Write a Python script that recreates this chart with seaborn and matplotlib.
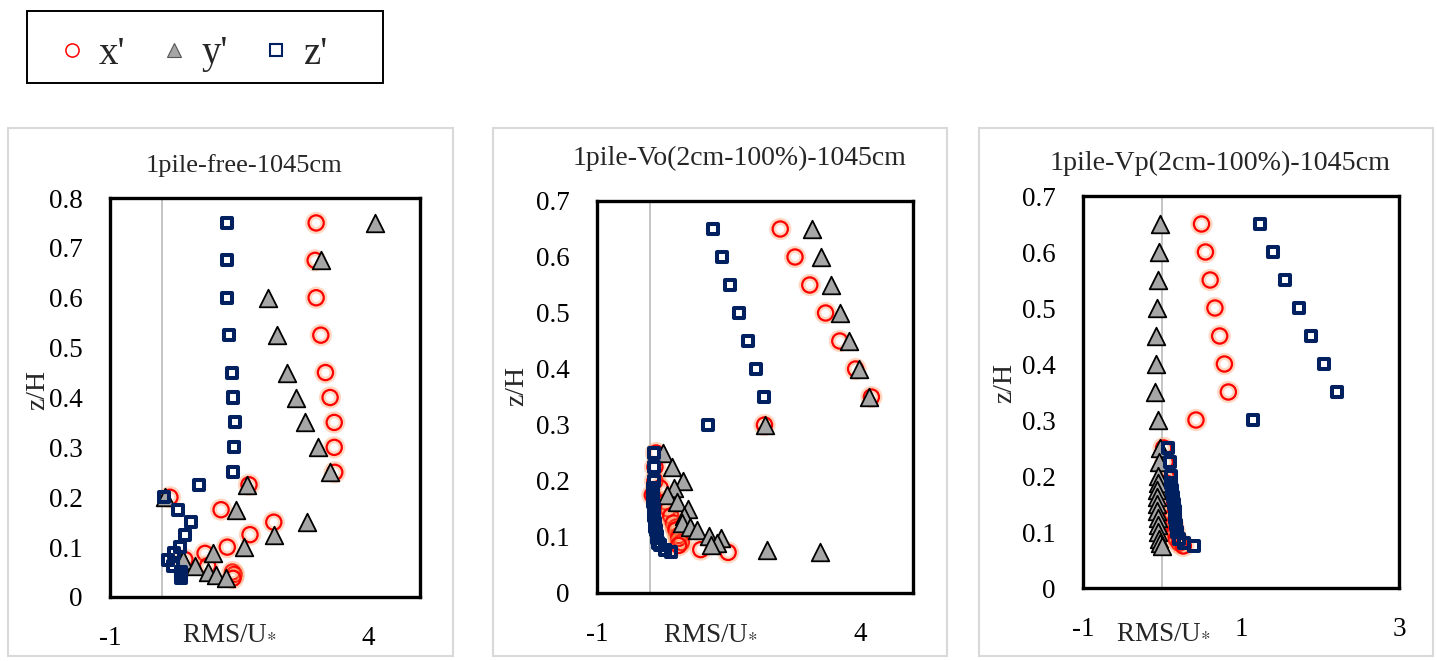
import numpy as np
import matplotlib
matplotlib.use("Agg")
import matplotlib.pyplot as plt
import matplotlib.patheffects as pe
from matplotlib.lines import Line2D
from matplotlib.patches import Rectangle
from matplotlib.ticker import FuncFormatter
import seaborn as sns

# ---------------- data ----------------
# Panel 1: 1pile-free-1045cm
free_z = [0.75, 0.675, 0.6, 0.525, 0.45, 0.4, 0.35, 0.3, 0.25, 0.225, 0.2, 0.175,
          0.15, 0.125, 0.1, 0.0875, 0.075, 0.0625, 0.05, 0.045, 0.0375]
free_x = [2.99, 2.97, 2.99, 3.08, 3.17, 3.26, 3.34, 3.34, 3.35, 1.69, 0.16, 1.15,
          2.17, 1.71, 1.27, 0.84, 0.45, 0.89, 1.37, 1.40, 1.38]
free_y = [4.13, 3.08, 2.06, 2.24, 2.42, 2.60, 2.77, 3.02, 3.26, 1.66, 0.06, 1.43,
          2.81, 2.17, 1.59, 0.99, 0.41, 0.64, 0.89, 1.05, 1.25]
free_w = [1.27, 1.27, 1.27, 1.31, 1.36, 1.39, 1.42, 1.40, 1.38, 0.72, 0.04, 0.31,
          0.56, 0.46, 0.35, 0.24, 0.13, 0.22, 0.38, 0.38, 0.38]

# Panel 2: 1pile-Vo(2cm-100%)-1045cm
vo_z = [0.65, 0.6, 0.55, 0.5, 0.45, 0.4, 0.35, 0.3, 0.25, 0.225, 0.2, 0.1875, 0.175,
        0.1625, 0.15, 0.1375, 0.125, 0.1175, 0.1125, 0.1025, 0.0975, 0.09, 0.085,
        0.0775, 0.0725]
vo_x = [2.48, 2.76, 3.04, 3.34, 3.61, 3.91, 4.21, 2.18, 0.12, 0.10, 0.10, 0.20, 0.05,
        0.30, 0.35, 0.40, 0.45, 0.50, 0.50, 0.55, 0.55, 0.60, 0.55, 0.97, 1.49]
vo_y = [3.08, 3.26, 3.44, 3.61, 3.79, 3.98, 4.16, 2.19, 0.25, 0.42, 0.63, 0.46, 0.32,
        0.51, 0.72, 0.66, 0.62, 0.76, 0.89, 1.13, 1.36, 1.27, 1.17, 2.22, 3.23]
vo_w = [1.21, 1.37, 1.53, 1.69, 1.86, 2.02, 2.18, 1.11, 0.08, 0.08, 0.09, 0.07, 0.06,
        0.07, 0.08, 0.09, 0.10, 0.11, 0.12, 0.13, 0.14, 0.16, 0.20, 0.30, 0.41]

# Panel 3: 1pile-Vp(2cm-100%)-1045cm
vp_z = [0.65, 0.6, 0.55, 0.5, 0.45, 0.4, 0.35, 0.3, 0.25, 0.225, 0.2, 0.1875, 0.175,
        0.1625, 0.15, 0.1375, 0.125, 0.1125, 0.1, 0.0875, 0.08, 0.075]
vp_x = [0.50, 0.55, 0.61, 0.67, 0.73, 0.79, 0.84, 0.43, 0.02, 0.04, 0.05, 0.05, 0.06,
        0.07, 0.08, 0.10, 0.12, 0.14, 0.16, 0.18, 0.22, 0.27]
vp_y = [-0.03, -0.04, -0.05, -0.06, -0.07, -0.08, -0.09, -0.05, -0.02, -0.04, -0.05,
        -0.05, -0.06, -0.06, -0.06, -0.06, -0.05, -0.05, -0.05, -0.04, -0.03, 0.0]
vp_w = [1.24, 1.40, 1.56, 1.73, 1.89, 2.05, 2.22, 1.15, 0.08, 0.10, 0.11, 0.12, 0.13,
        0.14, 0.15, 0.16, 0.17, 0.18, 0.19, 0.21, 0.28, 0.40]

titles = ["1pile-free-1045cm", "1pile-Vo(2cm-100%)-1045cm", "1pile-Vp(2cm-100%)-1045cm"]
series_labels = ["x'", "y'", "z'"]
x_ticks = [[-1, 4], [-1, 4], [-1, 1, 3]]
x_limits = [(-1, 5), (-1, 5), (-1, 3)]
y_max = [0.8, 0.7, 0.7]

# ---------------- style ----------------
sns.set_theme(style="white")
plt.rcParams["font.family"] = ["Liberation Serif", "DejaVu Serif"]
plt.rcParams["axes.unicode_minus"] = False
plt.rcParams["mathtext.fontset"] = "stix"

W, H = 1437, 661
fig = plt.figure(figsize=(W / 100, H / 100), dpi=100)

RED = "#FF0000"
GRAY = "#A6A6A6"
NAVY = "#002060"

# axes rectangles in pixels (left, top, right, bottom)
ax_px = [(110, 198, 420, 597), (597, 201, 913, 593), (1083, 196, 1399, 588)]
panel_px = [(8, 128, 453, 656), (493, 128, 947, 656), (979, 128, 1433, 656)]
title_px = [(244, 166), (740, 158), (1220, 163)]
title_fs = [19, 20, 20.2]
ylab_px = [(38, 390), (517, 386), (1005, 383)]
xlab_ax = [(0.387, -0.088), (0.358, -0.102), (0.254, -0.112)]

data = [(free_z, free_x, free_y, free_w), (vo_z, vo_x, vo_y, vo_w), (vp_z, vp_x, vp_y, vp_w)]

for i, (zz, xs, ys, ws) in enumerate(data):
    l, t, r, b = ax_px[i]
    ax = fig.add_axes([l / W, 1 - b / H, (r - l) / W, (b - t) / H])
    ax.axvline(0, color="#BFBFBF", lw=1.3, zorder=1)

    sns.scatterplot(x=xs, y=zz, ax=ax, marker="o", s=120, legend=False, zorder=3)
    c = ax.collections[-1]
    c.set_facecolor("none"); c.set_edgecolor(RED); c.set_linewidth(1.6)
    c.set_path_effects([pe.withStroke(linewidth=5, foreground=(1.0, 0.55, 0.3, 0.35))])

    sns.scatterplot(x=ys, y=zz, ax=ax, marker="^", s=160, legend=False, zorder=4)
    c = ax.collections[-1]
    c.set_facecolor(GRAY); c.set_edgecolor("black"); c.set_linewidth(1.3)

    sns.scatterplot(x=ws, y=zz, ax=ax, marker="s", s=52, legend=False, zorder=5)
    c = ax.collections[-1]
    c.set_facecolor("none"); c.set_edgecolor(NAVY); c.set_linewidth(2.9)

    ax.set_xlim(*x_limits[i])
    ax.set_ylim(0, y_max[i])
    ax.set_xticks(x_ticks[i])
    ax.set_yticks(np.round(np.arange(0, y_max[i] + 0.001, 0.1), 1))
    ax.yaxis.set_major_formatter(FuncFormatter(lambda v, p: "0" if abs(v) < 1e-9 else f"{v:.1f}"))
    ax.xaxis.set_major_formatter(FuncFormatter(lambda v, p: f"{v:g}"))
    ax.tick_params(axis="both", length=0, labelsize=19.5, labelcolor="black")
    ax.tick_params(axis="x", pad=21)
    ax.tick_params(axis="y", pad=19.5)
    ax.set_xlabel(""); ax.set_ylabel("")
    ax.grid(False)
    for s in ax.spines.values():
        s.set_color("black"); s.set_linewidth(2.4)

    ax.text(xlab_ax[i][0], xlab_ax[i][1], r"RMS/U$_{*}$", transform=ax.transAxes,
            ha="center", va="center", fontsize=19.5)

    px0, py0, px1, py1 = panel_px[i]
    fig.add_artist(Rectangle((px0 / W, 1 - py1 / H), (px1 - px0) / W, (py1 - py0) / H,
                             transform=fig.transFigure, fill=False, ec="#D9D9D9", lw=1.5))
    fig.text(title_px[i][0] / W, 1 - title_px[i][1] / H, titles[i], ha="center",
             va="center", fontsize=title_fs[i])
    fig.text(ylab_px[i][0] / W, 1 - ylab_px[i][1] / H, "z/H", rotation=90, ha="center",
             va="center", fontsize=20)

# legend box (frame drawn separately to match the reference padding)
fig.add_artist(Rectangle((27 / W, 1 - 83 / H), (383 - 27) / W, (83 - 11) / H,
                         transform=fig.transFigure, fill=False, ec="black", lw=1.4))
handles = [
    Line2D([], [], ls="none", marker="o", ms=9.5, mfc="none", mec=RED, mew=1.1),
    Line2D([], [], ls="none", marker="^", ms=9.5, mfc=GRAY, mec="#555555", mew=0.8),
    Line2D([], [], ls="none", marker="s", ms=8, mfc="none", mec=NAVY, mew=1.5),
]
leg = fig.legend(handles, series_labels, loc="center", bbox_to_anchor=(192 / W, 1 - 54 / H),
                 ncol=3, frameon=False, fontsize=28, handlelength=0.8,
                 handletextpad=0.3, columnspacing=0.85, borderpad=0.3)

fig.savefig("out.png", dpi=100)
